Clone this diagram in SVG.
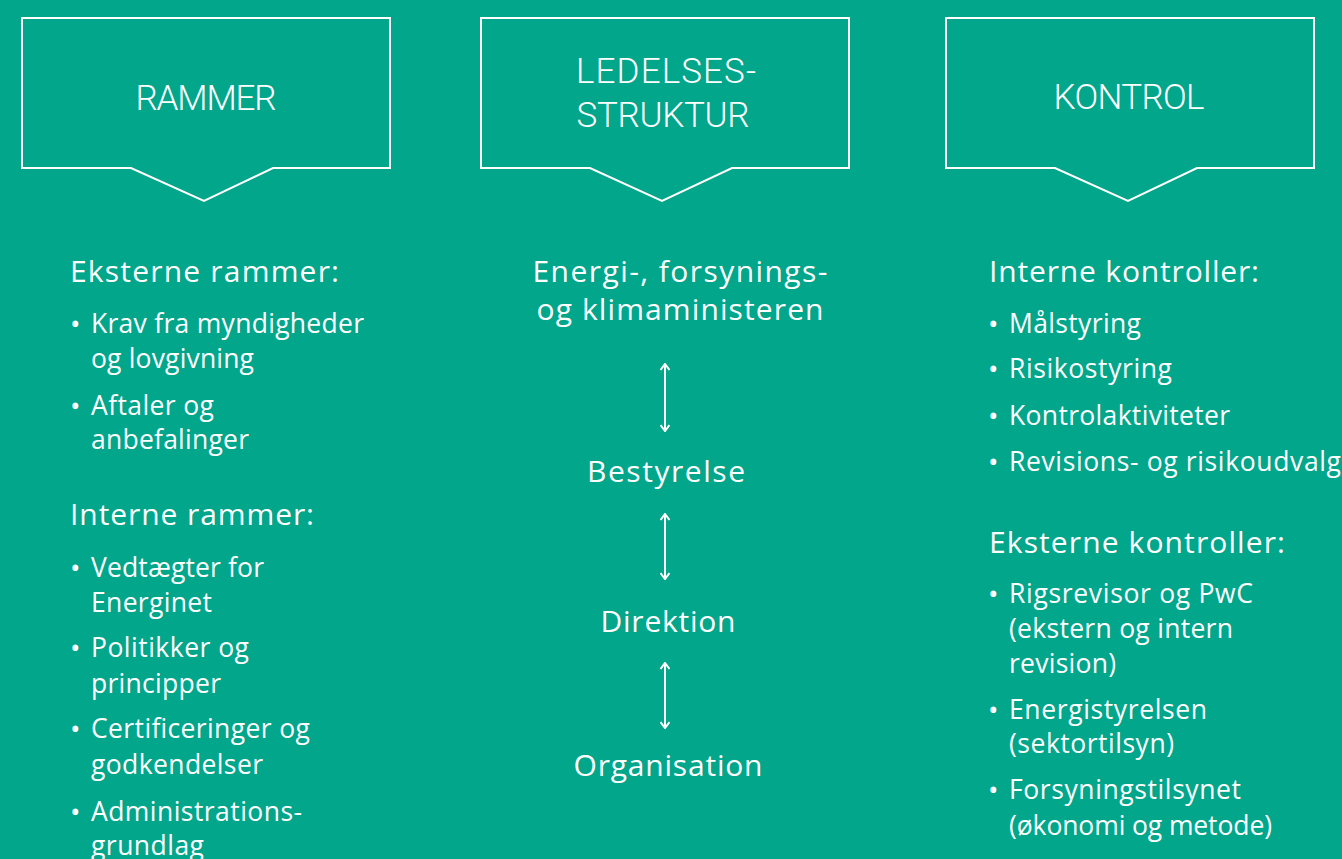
<svg xmlns="http://www.w3.org/2000/svg" width="1342" height="859" viewBox="0 0 1342 859">
<style>
.bg{fill:#02a68b}
.box{fill:none;stroke:#fff;stroke-width:2}
.title{font-family:Roboto,"Liberation Sans",sans-serif;font-weight:300;font-size:35px;fill:#fff;text-anchor:middle}
.head{font-family:"Open Sans",Roboto,"Liberation Sans",sans-serif;font-weight:400;font-size:30px;fill:#fff}
.item{font-family:"Open Sans",Roboto,"Liberation Sans",sans-serif;font-weight:400;font-size:26.5px;fill:#fff}
.bul{font-family:"Open Sans",Roboto,"Liberation Sans",sans-serif;font-weight:400;font-size:28px;fill:#fff}
.mid{font-family:"Open Sans",Roboto,"Liberation Sans",sans-serif;font-weight:400;font-size:30px;fill:#fff;text-anchor:middle}
.conn{stroke:#fff;stroke-width:2;fill:none;marker-start:url(#ah);marker-end:url(#ah)}
</style>
<defs>
<marker id="ah" viewBox="0 0 10 10" refX="9" refY="5" markerWidth="10" markerHeight="10" markerUnits="userSpaceOnUse" orient="auto-start-reverse">
<path d="M3,0.5 L9,5 L3,9.5" fill="none" stroke="#fff" stroke-width="2"/>
</marker>
</defs>
<rect class="bg" x="0" y="0" width="1342" height="859"/>
<g id="rammer">
<path class="box" d="M22,18 H390 V168 H273 L204,201 L131,168 H22 Z"/>
<text class="title" x="206" y="110" textLength="141">RAMMER</text>
</g>
<g id="ledelsesstruktur">
<path class="box" d="M481,18 H849 V168 H732 L662,201 L590,168 H481 Z"/>
<text class="title" x="666" y="83" textLength="180">LEDELSES-</text>
<text class="title" x="663" y="127" textLength="173">STRUKTUR</text>
</g>
<g id="kontrol">
<path class="box" d="M946,18 H1314 V168 H1197 L1128,201 L1055,168 H946 Z"/>
<text class="title" x="1129" y="109" textLength="151">KONTROL</text>
</g>
<g id="rammer-list">
<text class="head" x="70" y="282" textLength="269">Eksterne rammer:</text>
<text class="bul" x="70" y="334">•</text>
<text class="item" x="91" y="333" textLength="273">Krav fra myndigheder</text>
<text class="item" x="91" y="368" textLength="163">og lovgivning</text>
<text class="bul" x="70" y="416">•</text>
<text class="item" x="91" y="415" textLength="123">Aftaler og</text>
<text class="item" x="91" y="449" textLength="158">anbefalinger</text>
<text class="head" x="70" y="525" textLength="244">Interne rammer:</text>
<text class="bul" x="70" y="578">•</text>
<text class="item" x="91" y="577" textLength="173">Vedtægter for</text>
<text class="item" x="91" y="612" textLength="121">Energinet</text>
<text class="bul" x="70" y="658">•</text>
<text class="item" x="91" y="657" textLength="158">Politikker og</text>
<text class="item" x="91" y="693" textLength="130">principper</text>
<text class="bul" x="70" y="739">•</text>
<text class="item" x="91" y="738" textLength="219">Certificeringer og</text>
<text class="item" x="91" y="774" textLength="172">godkendelser</text>
<text class="bul" x="70" y="822">•</text>
<text class="item" x="91" y="821" textLength="211">Administrations-</text>
<text class="item" x="91" y="855" textLength="113">grundlag</text>
</g>
<g id="minister">
<text class="mid" x="680" y="282" textLength="295">Energi-, forsynings-</text>
<text class="mid" x="680" y="320" textLength="287">og klimaministeren</text>
</g>
<g id="bestyrelse"><text class="mid" x="666" y="482" textLength="158">Bestyrelse</text></g>
<g id="direktion"><text class="mid" x="668" y="632" textLength="135">Direktion</text></g>
<g id="organisation"><text class="mid" x="668" y="776" textLength="189">Organisation</text></g>
<g id="kontrol-list">
<text class="head" x="989" y="282" textLength="270">Interne kontroller:</text>
<text class="bul" x="988" y="334">•</text>
<text class="item" x="1009" y="333" textLength="132">Målstyring</text>
<text class="bul" x="988" y="379">•</text>
<text class="item" x="1009" y="378" textLength="163">Risikostyring</text>
<text class="bul" x="988" y="426">•</text>
<text class="item" x="1009" y="425" textLength="221">Kontrolaktiviteter</text>
<text class="bul" x="988" y="472">•</text>
<text class="item" x="1009" y="471" textLength="332">Revisions- og risikoudvalg</text>
<text class="head" x="989" y="553" textLength="296">Eksterne kontroller:</text>
<text class="bul" x="988" y="604">•</text>
<text class="item" x="1009" y="603" textLength="244">Rigsrevisor og PwC</text>
<text class="item" x="1009" y="638" textLength="224">(ekstern og intern</text>
<text class="item" x="1009" y="673" textLength="107">revision)</text>
<text class="bul" x="988" y="720">•</text>
<text class="item" x="1009" y="719" textLength="198">Energistyrelsen</text>
<text class="item" x="1009" y="753" textLength="165">(sektortilsyn)</text>
<text class="bul" x="988" y="800">•</text>
<text class="item" x="1009" y="799" textLength="232">Forsyningstilsynet</text>
<text class="item" x="1009" y="835" textLength="263">(økonomi og metode)</text>
</g>
<g id="connectors">
<line class="conn" x1="665" y1="364" x2="665" y2="431"/>
<line class="conn" x1="665" y1="514" x2="665" y2="579"/>
<line class="conn" x1="665" y1="663" x2="665" y2="728"/>
</g>
</svg>
